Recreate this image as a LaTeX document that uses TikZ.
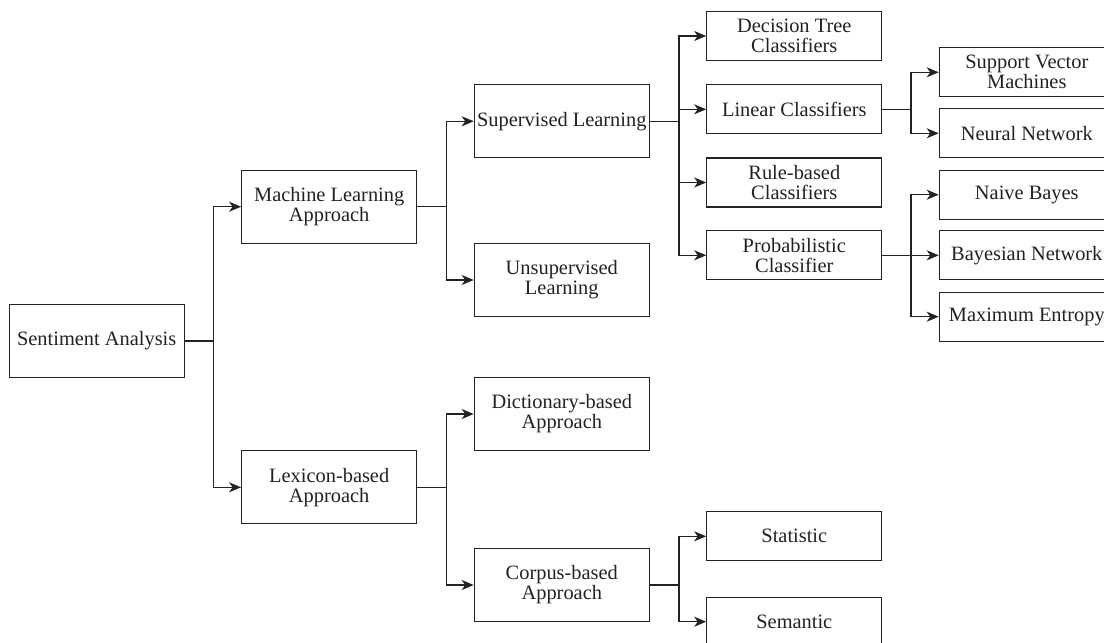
\documentclass[tikz,border=0pt]{standalone}
\usepackage{fontspec}
\setmainfont{Liberation Serif}
\usetikzlibrary{arrows.meta}
\definecolor{ink}{HTML}{222222}
\begin{document}
\begin{tikzpicture}[x=1pt,y=-1pt,
  box/.style={draw=ink,line width=1.2pt,fill=white,minimum width=175pt,align=center,
    font=\fontsize{20.4}{20}\selectfont,text=ink,inner sep=0pt},
  big/.style={box,minimum height=73pt},
  small/.style={box,minimum height=49pt},
  arr/.style={draw=ink,line width=1.2pt,-{Stealth[length=12pt,width=10pt,inset=3.5pt]}}]
\useasboundingbox (0,0) rectangle (1104,643);
\fill[white] (0,0) rectangle (1104,643);
% level 1-3
\node[big] (sa) at (96.7,341) {Sentiment Analysis};
\node[big] (ml) at (329.2,206.7) {Machine Learning\\Approach};
\node[big] (lex) at (329.2,487.3) {Lexicon-based\\Approach};
\node[big] (sup) at (561.8,121.3) {Supervised Learning};
\node[big] (uns) at (561.8,280) {Unsupervised\\Learning};
\node[big] (dic) at (561.8,414) {Dictionary-based\\Approach};
\node[big] (cor) at (561.8,585) {Corpus-based\\Approach};
% level 4
\node[small] (dt) at (794.3,36) {Decision Tree\\Classifiers};
\node[small] (lin) at (794.3,109.3) {Linear Classifiers};
\node[small] (rul) at (794.3,182.5) {Rule-based\\Classifiers};
\node[small] (pro) at (794.3,255.3) {Probabilistic\\Classifier};
\node[small] (sta) at (794.3,536.3) {Statistic};
\node[small] (sem) at (794.3,621.7) {Semantic};
% level 5
\node[small] (svm) at (1026.8,72.3) {Support Vector\\Machines};
\node[small] (nn) at (1026.8,133.3) {Neural Network};
\node[small] (nb) at (1026.8,194.7) {Naive Bayes};
\node[small] (bn) at (1026.8,255.3) {Bayesian Network};
\node[small] (me) at (1026.8,316.7) {Maximum Entropy};
% connectors
\foreach \t in {ml,lex} \draw[arr] (sa.east) -- ++(28.7,0) |- (\t.west);
\foreach \t in {sup,uns} \draw[arr] (ml.east) -- ++(29,0) |- (\t.west);
\foreach \t in {dic,cor} \draw[arr] (lex.east) -- ++(29,0) |- (\t.west);
\foreach \t in {dt,lin,rul,pro} \draw[arr] (sup.east) -- ++(29,0) |- (\t.west);
\foreach \t in {sta,sem} \draw[arr] (cor.east) -- ++(29,0) |- (\t.west);
\foreach \t in {svm,nn} \draw[arr] (lin.east) -- ++(28.6,0) |- (\t.west);
\foreach \t in {nb,bn,me} \draw[arr] (pro.east) -- ++(28.6,0) |- (\t.west);
\end{tikzpicture}
\end{document}
